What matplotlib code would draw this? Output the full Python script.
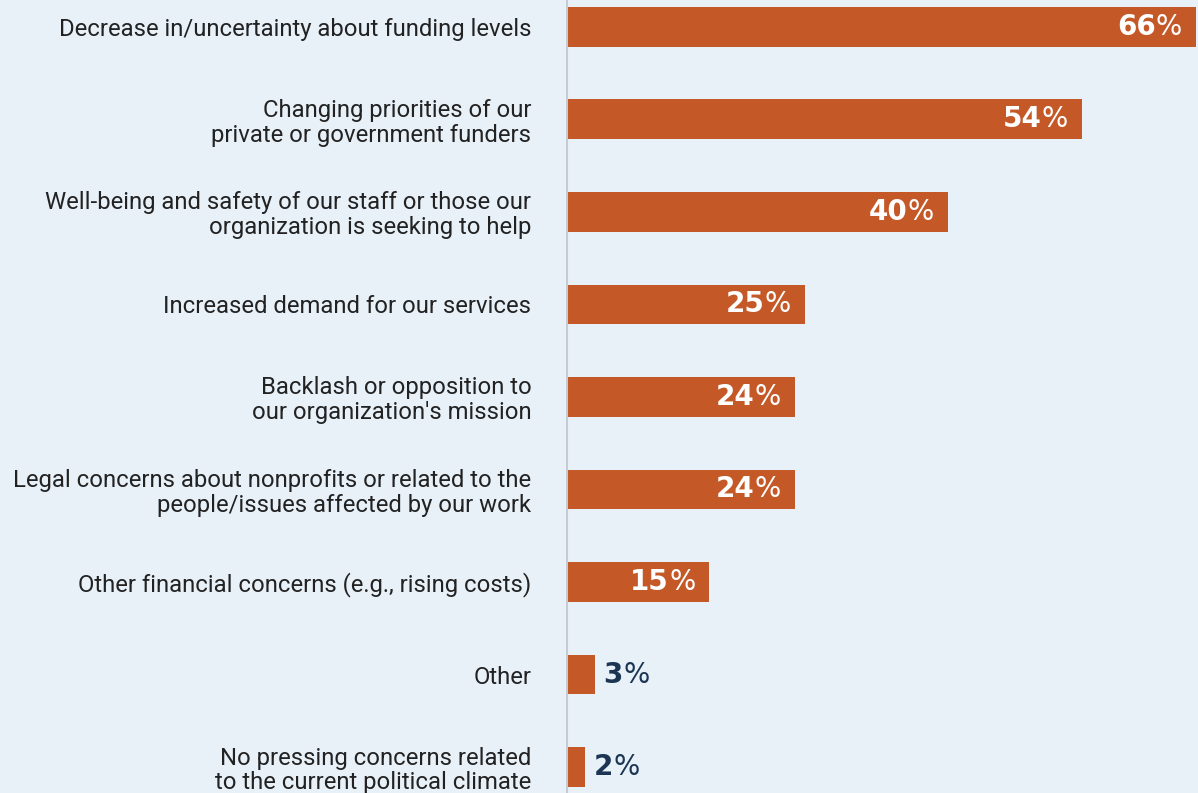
import matplotlib.pyplot as plt

# Pressing concerns, share of respondents (%)
categories = [
    "Decrease in/uncertainty about funding levels",
    "Changing priorities of our\nprivate or government funders",
    "Well-being and safety of our staff or those our\norganization is seeking to help",
    "Increased demand for our services",
    "Backlash or opposition to\nour organization's mission",
    "Legal concerns about nonprofits or related to the\npeople/issues affected by our work",
    "Other financial concerns (e.g., rising costs)",
    "Other",
    "No pressing concerns related\nto the current political climate",
]
values = [66, 54, 40, 25, 24, 24, 15, 3, 2]

BG = "#e8f0f8"
BAR = "#c45827"
NAVY = "#1c3553"
plt.rcParams['font.family'] = ['Roboto', 'DejaVu Sans']
VAL_FONT = ['DejaVu Sans']

fig = plt.figure(figsize=(11.98, 7.93), dpi=100, facecolor=BG)
ax = fig.add_axes([566 / 1198, 0, 1 - 566 / 1198, 1])
ax.set_facecolor(BG)

ypos = list(range(len(values)))
ax.barh(ypos, values, height=0.43, color=BAR, zorder=2)
ax.set_xlim(0, 66.2)
ax.set_ylim(8.28, -0.29)

for s in ax.spines.values():
    s.set_visible(False)
ax.axvline(0, color="#c6cbd3", lw=2.2, zorder=3)
ax.set_xticks([])
ax.set_yticks(ypos)
ax.set_yticklabels(categories, fontsize=17.2, color="#222222", linespacing=1.1, ha="right")
ax.tick_params(axis="y", length=0, pad=25)

for y, v in zip(ypos, values):
    inside = v >= 10
    col = "white" if inside else NAVY
    if inside:
        pct = ax.annotate("%", xy=(v, y), xytext=(-10, 0), textcoords="offset points",
                          ha="right", va="center", fontsize=20, color=col, family=VAL_FONT)
        ax.annotate(str(v), xy=(0, 0), xycoords=pct, ha="right", va="bottom",
                    fontsize=20, fontweight="bold", color=col, family=VAL_FONT)
    else:
        num = ax.annotate(str(v), xy=(v, y), xytext=(6.5, 0), textcoords="offset points",
                          ha="left", va="center", fontsize=20, fontweight="bold", color=col,
                          family=VAL_FONT)
        ax.annotate("%", xy=(1, 0), xycoords=num, ha="left", va="bottom",
                    fontsize=20, color=col, family=VAL_FONT)

fig.savefig("out.png", dpi=100, facecolor=BG)
